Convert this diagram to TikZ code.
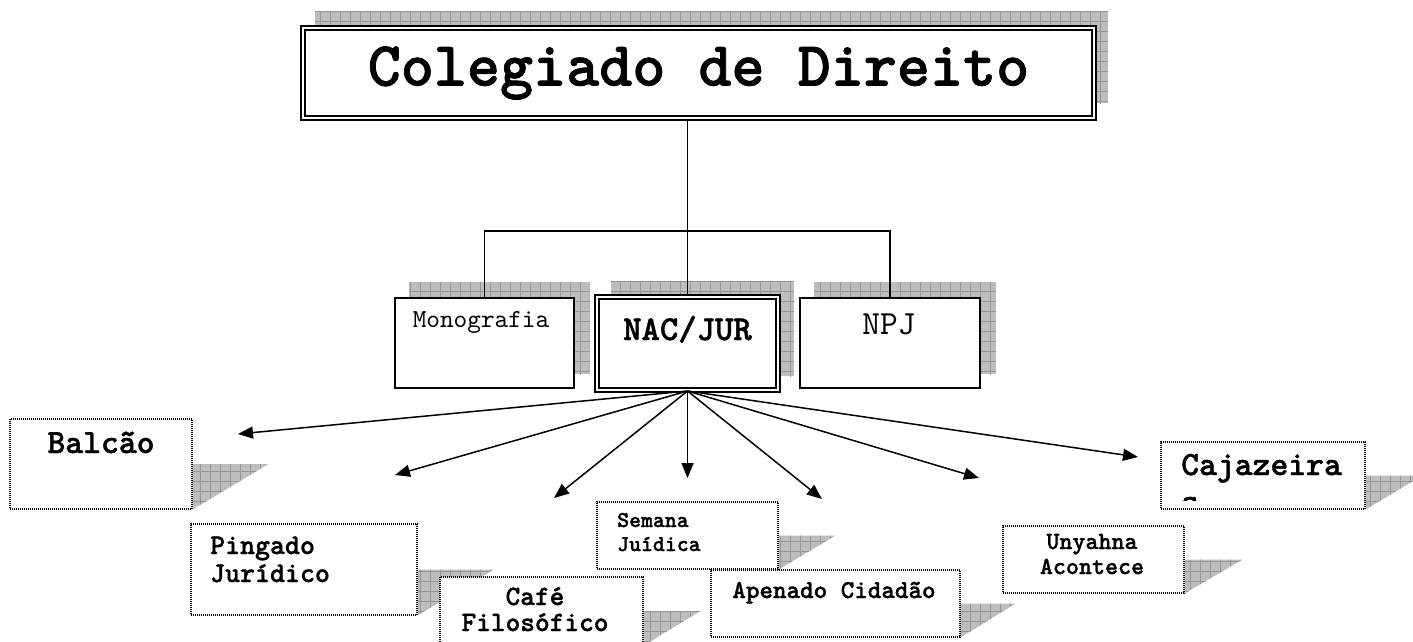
\documentclass[tikz,border=0pt]{standalone}
\usepackage{fontspec}
\setmainfont{lmmono10-regular.otf}[BoldFont=lmmonolt10-bold.otf, BoldFeatures={FakeBold=1.2}]
\usepackage{tikz}
\usetikzlibrary{arrows.meta,backgrounds,patterns.meta}

\begin{document}
\begin{tikzpicture}[x=1pt, y=-1pt,
    >={Triangle[length=15pt, width=12pt]},
    plainbox/.style={shape=rectangle, draw=black, line width=2pt, fill=white},
    dblbox/.style={shape=rectangle, draw=black, line width=2pt, double=white, double distance=2pt, fill=white},
    dotbox/.style={shape=rectangle, draw=black, line width=1.1pt, dash pattern=on 1pt off 1pt, fill=white, inner sep=0pt},
    gridshadow/.style={preaction={fill=black!26}, pattern={Hatch[angle=0, distance=10pt, line width=0.6pt]}, pattern color=black!42},
    txt/.style={inner sep=0pt},
    link/.style={line width=1.3pt},
    arr/.style={->, line width=1.5pt}]

      \useasboundingbox (0,0) rectangle (1413,641);

      \node[dblbox, minimum width=791pt, minimum height=90pt,
            font=\fontsize{63}{66}\selectfont\bfseries] (Coleg) at (698.5,73)
           {Colegiado de Direito};

      \node[plainbox, minimum width=179pt, minimum height=90pt] (Mono) at (484.5,343) {};
      \node[dblbox, minimum width=181pt, minimum height=93pt] (Nac) at (687.5,343.5) {};
      \node[plainbox, minimum width=180pt, minimum height=90pt] (Npj) at (890,343) {};
      \node[txt, anchor=base, font=\fontsize{26}{28}\selectfont] (MonoTxt) at (481,327) {Monografia};
      \node[txt, anchor=base, font=\fontsize{35}{38}\selectfont\bfseries] (NacTxt) at (687.5,340) {NAC/JUR};
      \node[txt, anchor=base, font=\fontsize{33.8}{36}\selectfont] (NpjTxt) at (889,334) {NPJ};

      \node[dotbox, minimum width=182pt, minimum height=90pt] (Balc) at (101,464) {};
      \node[dotbox, minimum width=226pt, minimum height=91pt] (Ping) at (304,569.5) {};
      \node[dotbox, minimum width=203pt, minimum height=68pt] (Cafe) at (541.5,611) {};
      \node[dotbox, minimum width=181pt, minimum height=67pt] (Sem) at (687.5,535.5) {};
      \node[dotbox, minimum width=249pt, minimum height=67pt] (Apen) at (835.5,603.5) {};
      \node[dotbox, minimum width=181pt, minimum height=67pt] (Unya) at (1093.5,559.5) {};
      \node[dotbox, minimum width=204pt, minimum height=67pt] (Caja) at (1263,475.5) {};

      \node[txt, anchor=base, font=\fontsize{34}{37}\selectfont\bfseries] (BalcTxt) at (101,453) {Balcão};
      \node[txt, anchor=base west, align=left, font=\fontsize{28.5}{28}\selectfont\bfseries] (PingTxt) at (210,582)
           {Pingado\\Jurídico};
      \node[txt, anchor=base, align=center, font=\fontsize{28}{26}\selectfont\bfseries] (CafeTxt) at (535,631)
           {Café\\Filosófico};
      \node[txt, anchor=base west, align=left, font=\fontsize{22.7}{24}\selectfont\bfseries] (SemTxt) at (617,551)
           {Semana\\Juídica};
      \node[txt, anchor=base, font=\fontsize{25.8}{28}\selectfont\bfseries] (ApenTxt) at (834,598) {Apenado Cidadão};
      \node[txt, anchor=base, align=center, font=\fontsize{24.8}{25}\selectfont\bfseries] (UnyaTxt) at (1092,574)
           {Unyahna\\Acontece};
      \begin{scope}
        \clip (Caja.north west) rectangle ([yshift=9pt]Caja.south east);
        \node[txt, anchor=base west, align=left, font=\fontsize{34}{37}\selectfont\bfseries] (CajaTxt) at (1181,512)
             {Cajazeira\\s};
      \end{scope}

      \begin{scope}[on background layer]
        \path[gridshadow] ([shift={(13,-16)}]Coleg.south west) rectangle ([shift={(13,-16)}]Coleg.north east);
        \foreach \b in {Mono,Nac,Npj}
          \path[gridshadow] ([shift={(15,-15)}]\b.south west) rectangle ([shift={(15,-15)}]\b.north east);
        \foreach \b/\w in {Balc/76,Ping/76,Cafe/57,Sem/57,Apen/55,Unya/58,Caja/57}
          \path[gridshadow] (\b.south east) -- (\b.east) -- ++(\w,0) -- cycle;
      \end{scope}

      \coordinate (Bar) at (687.5,231);
      \draw[link] (Nac.north) -- (Nac.north |- Coleg.south);
      \draw[link] (Mono.north) |- (Bar) -| (Npj.north);

      \coordinate (TipBalc) at (238,434);
      \coordinate (TipPing) at (395,475);
      \coordinate (TipCafe) at (554,498);
      \coordinate (TipSem) at (687.5,478);
      \coordinate (TipApen) at (822,499);
      \coordinate (TipUnya) at (979,478);
      \coordinate (TipCaja) at (1138,457);
      \foreach \t in {Balc,Ping,Cafe,Sem,Apen,Unya,Caja}
        \path [arr] (Nac.south) edge (Tip\t);
  \end{tikzpicture}
\end{document}
